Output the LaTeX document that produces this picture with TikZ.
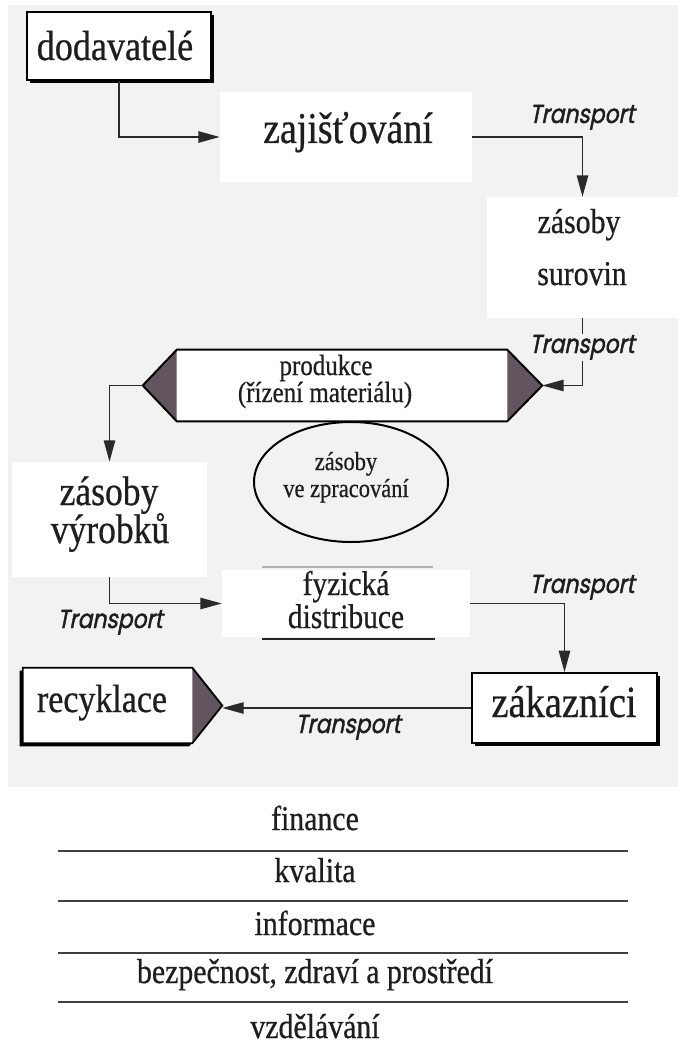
\documentclass[tikz,border=0pt]{standalone}
\usepackage{fontspec}
\setmainfont{Liberation Serif}[FakeStretch=0.86,FakeBold=0.6]
\newfontfamily\tfont{Poppins}[FakeSlant=0.2,FakeStretch=0.84,FakeBold=1.6]
\usetikzlibrary{arrows.meta,shapes.geometric,shadows,calc}
\definecolor{bgc}{HTML}{F2F2F2}
\definecolor{textc}{HTML}{1E1E1E}
\definecolor{linec}{HTML}{2A2A2A}
\definecolor{darkfill}{HTML}{62555F}
\begin{document}
\begin{tikzpicture}[x=0.75pt,y=-0.75pt,
  conn/.style={draw=linec, line width=1.1pt},
  arr/.style={conn, -{Triangle[length=16pt,width=8.5pt]}},
  wbox/.style={rectangle, fill=white, draw=none, inner sep=0pt},
  sbox/.style={rectangle, fill=white, draw=black, line width=1.4pt, inner sep=0pt,
    drop shadow={shadow xshift=2.6pt, shadow yshift=-2.6pt, fill=black, opacity=1}},
  txt/.style={anchor=base, inner sep=0pt, text=textc},
  tlab/.style={anchor=base, inner sep=1pt, text=textc, font=\tfont\fontsize{19.5pt}{20pt}\selectfont},
]
\useasboundingbox (0,0) rectangle (678,1045);
\fill[white] (0,0) rectangle (678,1045);
\fill[bgc] (8,5) rectangle (678,787);

% boxes
\node[sbox, minimum width=184*0.75pt, minimum height=68*0.75pt] (dod) at (119,46) {};
\node[wbox, minimum width=252*0.75pt, minimum height=90*0.75pt] (zaj) at (346,137) {};
\node[wbox, minimum width=191*0.75pt, minimum height=121*0.75pt] (sur) at (582.5,257.5) {};
\node[wbox, minimum width=195*0.75pt, minimum height=115*0.75pt] (vyr) at (109.5,519.5) {};
\node[wbox, minimum width=248*0.75pt, minimum height=67*0.75pt] (fyz) at (346,603.5) {};
\node[sbox, minimum width=185*0.75pt, minimum height=70*0.75pt] (zak) at (564.5,708) {};

% produkce
\node[rectangle, fill=white, inner sep=0pt, minimum width=330*0.75pt, minimum height=71*0.75pt] (prod) at (342,385.5) {};
\coordinate (prodE) at ($(prod.east)+(35,0)$);
\coordinate (prodW) at ($(prod.west)-(34,0)$);
\fill[darkfill] (prod.north east) -- (prodE) -- (prod.south east) -- cycle;
\fill[darkfill] (prod.north west) -- (prodW) -- (prod.south west) -- cycle;
\draw[black, line width=1.5pt, line join=miter] (prod.north west) -- (prod.north east) -- (prodE) -- (prod.south east) -- (prod.south west) -- (prodW) -- cycle;

% ellipse
\node[ellipse, draw=black, line width=1.5pt, inner sep=0pt, minimum width=194*0.75pt, minimum height=120*0.75pt] (ell) at (351,482) {};

% recyklace
\node[rectangle, inner sep=0pt, minimum width=169*0.75pt, minimum height=75*0.75pt] (rec) at (107.5,705.5) {};
\coordinate (recTip) at ($(rec.east)+(30,0)$);
\fill[black] ($(rec.north west)+(-3,3)$) -- ($(rec.north east)+(-3,3)$) -- ($(recTip)+(-3,3)$) -- ($(rec.south east)+(-3,3)$) -- ($(rec.south west)+(-3,3)$) -- cycle;
\fill[white] (rec.north west) -- (rec.north east) -- (recTip) -- (rec.south east) -- (rec.south west) -- cycle;
\fill[darkfill] (rec.north east) -- (recTip) -- (rec.south east) -- cycle;
\draw[black, line width=1.4pt] (rec.north west) -- (rec.north east) -- (recTip) -- (rec.south east) -- (rec.south west) -- cycle;

% fyzicka lines
\draw[black!30, line width=1.5pt] (262,567) -- (433,567);
\draw[black!85, line width=1.8pt] (262,639) -- (435,639);

% texts
\node[txt, font=\fontsize{31.5pt}{36pt}\selectfont] (tdod) at (115,60) {dodavatelé};
\node[txt, font=\fontsize{33pt}{38pt}\selectfont] (tzaj) at (348,143) {zajišťování};
\node[txt, font=\fontsize{26pt}{30pt}\selectfont] (tsur1) at (579,233) {zásoby};
\node[txt, font=\fontsize{26pt}{30pt}\selectfont] (tsur2) at (582,285) {surovin};
\node[txt, font=\fontsize{21.8pt}{25pt}\selectfont] (tprod1) at (326,375) {produkce};
\node[txt, font=\fontsize{21.8pt}{25pt}\selectfont] (tprod2) at (325,402) {(řízení materiálu)};
\node[txt, font=\fontsize{19.6pt}{22pt}\selectfont] (tell1) at (346,470) {zásoby};
\node[txt, font=\fontsize{19.6pt}{22pt}\selectfont] (tell2) at (346,497) {ve zpracování};
\node[txt, font=\fontsize{31pt}{36pt}\selectfont] (tvyr1) at (109,505) {zásoby};
\node[txt, font=\fontsize{31pt}{36pt}\selectfont] (tvyr2) at (110,543) {výrobků};
\node[txt, font=\fontsize{25.7pt}{30pt}\selectfont] (tfyz1) at (346,595) {fyzická};
\node[txt, font=\fontsize{25.7pt}{30pt}\selectfont] (tfyz2) at (346,628) {distribuce};
\node[txt, font=\fontsize{33.5pt}{38pt}\selectfont] (tzak) at (564,717) {zákazníci};
\node[txt, font=\fontsize{29.6pt}{34pt}\selectfont] (trec) at (102,712) {recyklace};

% connectors
\draw[arr] (dod.south) |- (zaj.west);
\draw[arr] (zaj.east) -| (sur.north);
\draw[arr] (sur.south) |- (prodE);
\draw[arr] (prodW) -| (vyr.north);
\draw[arr] (vyr.south) |- (fyz.west);
\draw[arr] (fyz.east) -| (zak.north);
\draw[arr] (zak.west) -- (zak.west -| recTip);

% transport labels
\node[tlab] (l1) at (582,123) {Transport};
\node[tlab, fill=bgc] (l2) at (582,353) {Transport};
\node[tlab] (l3) at (110,628) {Transport};
\node[tlab] (l4) at (582,593) {Transport};
\node[tlab] (l5) at (348,733) {Transport};

% bottom table
\foreach \yy in {851, 901, 953, 1002} {
  \draw[black!75, line width=1.3pt] (58,\yy) -- (628,\yy);
}
\node[txt, font=\fontsize{26pt}{30pt}\selectfont] (f1) at (315,830) {finance};
\node[txt, font=\fontsize{26pt}{30pt}\selectfont] (f2) at (315,882) {kvalita};
\node[txt, font=\fontsize{26pt}{30pt}\selectfont] (f3) at (315,935) {informace};
\node[txt, font=\fontsize{26pt}{30pt}\selectfont] (f4) at (315,983) {bezpečnost, zdraví a prostředí};
\node[txt, font=\fontsize{26pt}{30pt}\selectfont] (f5) at (315,1038) {vzdělávání};
\end{tikzpicture}
\end{document}
